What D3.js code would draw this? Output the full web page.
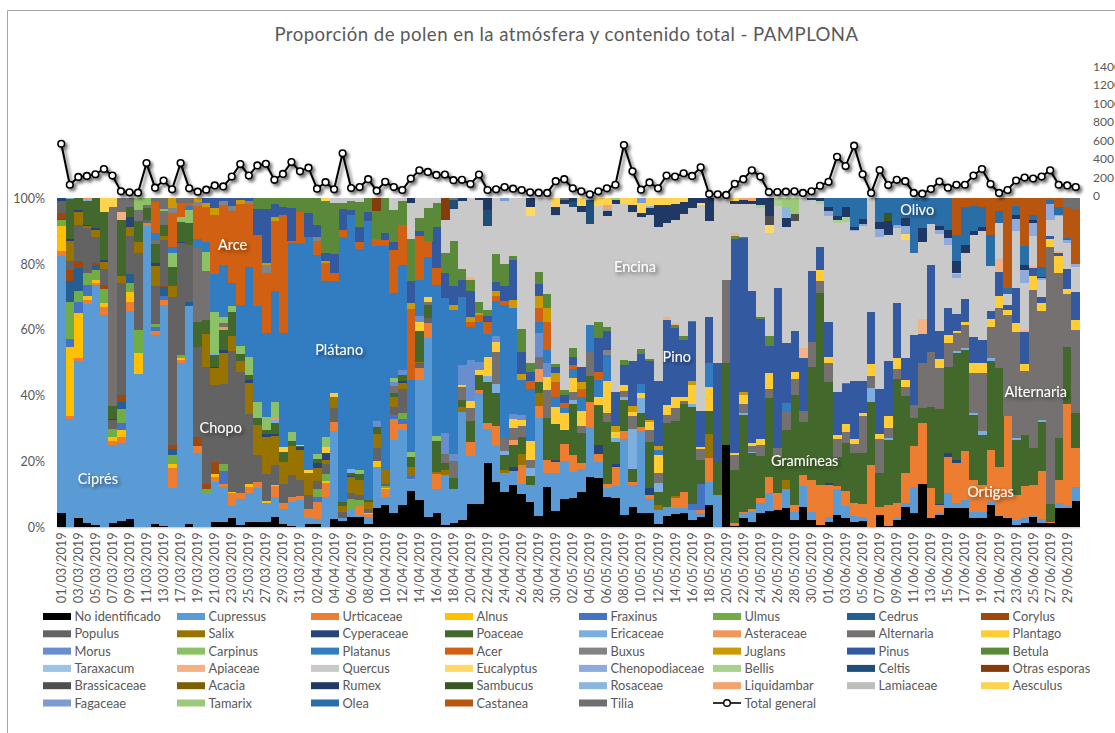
<!DOCTYPE html>
<html><head><meta charset="utf-8">
<script src="https://cdn.jsdelivr.net/npm/d3@7"></script>
<style>
html,body{margin:0;padding:0;background:#fff;overflow:hidden}
svg{display:block;font-family:Lato,"Open Sans",sans-serif}
</style></head><body>
<svg id="c" width="1115" height="733"></svg>
<script>
const chartTitle = "Proporción de polen en la atmósfera y contenido total - PAMPLONA";
const dates = ["01/03/2019","02/03/2019","03/03/2019","04/03/2019","05/03/2019","06/03/2019","07/03/2019","08/03/2019","09/03/2019","10/03/2019",
"11/03/2019","12/03/2019","13/03/2019","14/03/2019","17/03/2019","18/03/2019","19/03/2019","20/03/2019","21/03/2019","22/03/2019",
"23/03/2019","24/03/2019","25/03/2019","26/03/2019","27/03/2019","28/03/2019","29/03/2019","30/03/2019","31/03/2019","01/04/2019",
"02/04/2019","03/04/2019","04/04/2019","05/04/2019","06/04/2019","07/04/2019","08/04/2019","09/04/2019","10/04/2019","11/04/2019",
"12/04/2019","13/04/2019","14/04/2019","15/04/2019","16/04/2019","17/04/2019","18/04/2019","19/04/2019","20/04/2019","21/04/2019",
"22/04/2019","23/04/2019","24/04/2019","25/04/2019","26/04/2019","27/04/2019","28/04/2019","29/04/2019","30/04/2019","01/05/2019",
"02/05/2019","03/05/2019","04/05/2019","05/05/2019","06/05/2019","07/05/2019","08/05/2019","09/05/2019","10/05/2019","11/05/2019",
"12/05/2019","13/05/2019","14/05/2019","15/05/2019","16/05/2019","17/05/2019","18/05/2019","19/05/2019","20/05/2019","21/05/2019",
"22/05/2019","23/05/2019","24/05/2019","25/05/2019","26/05/2019","27/05/2019","28/05/2019","29/05/2019","30/05/2019","31/05/2019",
"01/06/2019","02/06/2019","03/06/2019","04/06/2019","05/06/2019","06/06/2019","07/06/2019","08/06/2019","09/06/2019","10/06/2019",
"11/06/2019","12/06/2019","13/06/2019","14/06/2019","15/06/2019","16/06/2019","17/06/2019","18/06/2019","19/06/2019","20/06/2019",
"21/06/2019","22/06/2019","23/06/2019","24/06/2019","25/06/2019","26/06/2019","27/06/2019","28/06/2019","29/06/2019","30/06/2019"];

const totalGeneral = [563,118,203,214,232,289,218,46,36,32,
353,86,164,68,353,79,43,64,111,100,
207,342,218,328,346,171,235,364,264,303,
75,146,68,460,82,93,178,54,150,93,
61,185,275,257,225,228,168,171,125,228,
61,68,93,75,61,36,32,29,157,178,
79,46,14,46,79,118,549,264,64,143,
79,218,207,243,214,307,18,14,7,128,
178,275,207,39,39,43,46,29,46,107,
150,421,321,542,232,29,278,114,171,157,
29,21,71,153,86,118,118,218,289,125,
29,61,164,196,185,207,275,118,111,93];

// Full daily series (percent of the day's total)
const noIdentificado = [4.2,0,2.7,1.2,.7,.2,1.2,1.9,2.6,0,
.2,1,.4,0,.2,1,0,0,1.7,1.7,
2.7,.7,1.7,1.7,1.7,3.2,1,.4,0,.9,
1,.2,2.5,2,3.2,3,1,5.8,6.8,4.2,
6.8,11,8.3,3,4.3,.7,1.4,2.2,7.2,7.2,
19.4,13.9,10.8,13,10.1,7.6,3.5,12.3,5.1,8.6,
8.8,10.8,15.2,14.9,9.3,9,3.7,6.3,4.2,4.2,
1,3.5,4,4.2,2.2,3.2,6.8,.2,25,.4,
2.9,1.7,4.2,5.1,5.3,5.8,2.2,6.3,2.2,.7,
1.7,3.7,2.7,1.7,2,0,3.7,.4,2.2,6.3,
4.2,13.3,2.7,3.7,5.8,5.8,6,2.7,2.9,6.8,
3.5,2.9,.7,1.2,3.2,1.4,1.2,5.8,6,8.1];
const cupressus = [78.3,32.8,47.9,66.8,73,64.2,23.8,23.6,63,46.5,
91.5,57.5,67,11.8,49.8,66.1,22.5,10,12.1,10.6,
4,7.8,8.6,10.1,5.6,5.9,4.7,7.4,8.3,1.8,
1.4,9.1,26.8,.7,2.5,.5,2.2,12.4,2.5,22.3,
22.7,3.3,36.6,54.5,7.3,15.2,10.1,32.9,14.4,33.5,
10.6,11.1,5.6,4.1,3.2,5.4,29.6,4.1,11.5,11.6,
8.1,6.8,15.4,5,2.7,3.6,23,6.5,24.6,4.3,
4.2,2.8,2,1.7,3,1,7,9.6,0,0,
1.4,3,3.1,5.2,.2,5.7,2.5,6.3,2.5,0,
1.5,7.8,3.8,1.8,1.2,0,0,0,.5,1,
8.1,0,0,.5,4.7,1.5,2.3,2,1.8,.8,
0,0,1.5,1.8,.2,1,0,1.5,.6,4.2];
const urticaceae = [1.5,1,.7,1,.5,2.4,1.2,2,2.9,0,
.7,1.2,1.7,6.1,.8,0,2.2,0,1.6,1,
3.6,2,2,2,0,3.3,1.6,1.5,1.3,3,
5.4,4.2,2.7,0,0,3,.8,0,2.3,6.4,
1.8,.5,3.4,4.5,4.6,0,0,0,4.4,1,
1.8,5.8,0,0,5.6,0,3.7,4.2,3.3,5.1,
5,2,7.6,2.5,1.3,5.8,2.6,1,1.2,1.3,
0,0,2.8,4.9,0,1,7.4,0,0,.8,
.4,1,1.5,5.1,5,0,2.1,3.3,9.7,12.3,
9.8,1.2,4.6,4,3.8,19,2.5,6.4,4.8,9.3,
12.4,18.3,9.3,2.6,10.9,12.3,15,9.8,8.1,15.9,
14.9,30.9,7.6,9.6,9.4,14.6,.5,7.1,31,11.7];
const poaceae = [0,12.1,3.5,7.1,9.1,14.5,4.2,16.9,2.9,6.6,
3.6,5.9,3.5,5.8,6.3,6.6,7.6,4.2,3.5,6,
7.3,2.2,1.4,2.3,1.5,3.3,3,1.5,.4,0,
1.3,0,0,1.4,.8,2,.5,2.1,0,1.2,
1.6,3,9.4,4.1,9.3,2,3.4,2,6.3,4.6,
12.4,9.9,4.5,6.6,5.1,2.6,3.5,12.5,10.9,4.4,
15.7,9.1,7.8,12.2,18.7,6.8,9.4,3.8,4.3,14.2,
4.1,25.3,22.7,26.6,29.4,7.3,7.1,10.1,25,16.2,
29.4,16.8,12.8,23.8,10.9,15.1,33.4,16.1,34.4,58.2,
30.7,8.7,14.4,15,15.7,19.2,10.2,19.7,37.5,23.3,
8.4,4.5,24.6,28.7,26.3,32.6,30.7,19.5,15.2,27.1,
29.9,0,16.7,15.4,11.2,15,5.3,12.6,17.3,10.6];

// Sparse series as flat lists: day index, value, day index, value ...
const alnus = [0,7.6,1,21.1,2,13.7,3,1.3,4,1,5,1.3,6,1.3,7,2,8,2.9,9,6.5,13,1.3,14,.5,18,.8,20,.5,22,.8,24,.8,25,.5,31,.6,36,.4,37,1.9,38,.3];
const fraxinus = [1,2.3,2,3.6,3,3.3,7,2.3,11,1.1,12,1.3,19,3.9,30,1.3,39,1,40,1.6,41,1,74,2,75,7.9];
const ulmus = [0,1.8,1,11.4,2,3.3,3,3.8,4,3,5,4.3,6,2.4,7,4.1,8,2.8,9,7,11,1,13,2.8,14,1,17,1.6,19,2,30,2.5,31,2.1,34,2.8,35,1.9,38,.6,40,1.9];
const cedrus = [0,.3,1,6.1,2,6.9,4,1.6,7,2.3,8,2.8,12,2.6,13,1.7,15,1.3];
const corylus = [0,1.8,1,3.5,2,2.2,4,.5,5,1.3,7,2,12,.4,13,1.3,16,2.6,17,1.5,18,3.7];
const populus = [0,3.5,1,2.8,2,11,3,13.5,4,7.9,5,4.9,6,2.7,7,34,8,11.6,9,23.3,10,1,11,11.4,12,13.8,13,45.1,14,34.1,15,17.4,16,27.6,17,35.5,18,23.3,19,24.3,20,42.8,21,36.8,22,21.3,23,8.2,24,8.1,25,6.1,26,6,27,6.6,28,4.9,29,4.1,30,2.5,31,2.9,32,4.3,33,2,34,2,35,1.3,36,1.3,37,4.1,38,.8,39,2.4,40,7.1,42,1.5,43,1.5];
const salix = [1,5.9,2,3.7,3,.8,4,2.2,5,2,7,2.3,8,2.6,9,3.3,11,6.1,12,1.2,13,3.1,17,10.2,18,5.1,19,9.5,20,4.4,21,3.3,22,9.5,23,9,24,11.3,25,8.7,26,6.6,27,8.9,28,9,29,6.6,30,3.8,31,1.5,32,3.2,33,1.7,34,4.9,35,4.6,36,2.1,37,4.2,38,4.1,39,3.3,40,2,41,2.6,42,.5,44,.5,45,1.5,47,1.5,52,1,54,3.3,56,3.9,70,1.5,72,.8,76,7.1,85,2.9];
const cyperaceae = [0,1,1,.8,2,.8,3,.2,4,.5,5,.7,6,.2,8,3.1,11,1,14,.2,18,.5,19,1,22,1,24,.7,25,.6,28,.8,30,1.7,31,1.9,34,.2,40,.7,53,1.2,58,.5,63,2.5,65,.8,69,2,90,.5,103,.3,104,1.1,105,.8];
const ericaceae = [1,.2,3,.5,18,.7,25,1,34,1.3,50,1.8,51,2.8,52,1.2,55,2.5,60,1.2,65,1,66,.8,67,12.4,68,4.3,70,2.7,74,1,80,.5,81,.3,95,4,97,.5,105,.6,106,.6,107,.7,108,1.3,109,.7,112,.5,115,.5];
const asteraceae = [3,.5,19,1,25,.5,53,1.5,56,3.8];
const alternaria = [6,60.3,9,3.3,10,1,11,1.2,12,4.1,16,22.3,17,15,19,1.2,39,2.1,43,1,45,2.8,46,5.3,47,4.1,48,4.1,51,9.9,52,4.4,53,3.9,54,3.4,55,2.5,56,3.6,57,8.6,60,2.4,61,2,62,7.4,64,2.8,66,2,67,3.8,69,3.6,70,2.9,71,2.4,72,3.8,73,1.1,75,3.3,78,25.2,79,4.6,80,3,81,1.9,82,3.4,83,2.7,84,2.6,85,5.6,86,5,87,3.3,88,7.4,89,3.5,90,5.8,91,5.3,92,3.5,93,2.8,94,11.1,95,3.8,96,10.3,97,3.3,98,3,99,2.6,100,4.2,101,13.7,102,16.8,103,12.5,104,7.2,105,5.4,106,6.9,107,12.3,108,17.7,109,9.7,110,18.3,111,30.6,112,32.3,113,19.6,114,48.2,115,33.1,116,78.3,117,50.4,118,15.9,119,25.4];
const plantago = [26,1.4,28,.2,29,1,31,2,32,1.2,42,2.8,43,1.5,47,.5,48,2,49,1.5,50,5.8,51,3,53,2.7,54,1.8,55,5.6,57,3.9,58,5.3,59,5.1,60,4.1,61,4.6,63,2.6,64,9.7,65,1.9,66,1.7,67,1.3,68,1.5,69,2.4,70,5.5,71,3.1,72,3.4,73,1,74,5.6,75,.6,76,7.3,79,.7,80,2.6,81,1,82,1.7,83,5.1,86,2.1,89,3.5,90,1.8,91,1.3,92,2.5,93,1.4,94,.8,95,3.6,96,1.5,97,3.5,98,3.3,99,2.2,103,2.8,104,2.5,105,.7,106,1,107,3,108,3,109,2.4,110,3.8,111,1.7,112,2.7,113,2,114,4.2,115,2.5,116,2.3,117,5,118,1.6,119,3];
const morus = [37,1.8,39,1,40,1.7,42,1.7,45,6.5,46,2.2,47,6.1,48,12.4,49,2.5,51,1.6,53,1.4,54,1.5,56,7.4,57,4.2];
const carpinus = [9,3.5,10,2,12,.7,13,4.5,14,1.3,15,3.9,17,5.8,18,12.3,19,1.8,20,2,21,2.2,22,5.5,23,4.9,24,3.7,25,4.9,27,2.7,30,1.3,31,2.8,35,1.1,39,1.3,41,1.6,44,1.5];
const platanus = [11,2,13,1.6,15,1.2,16,2.8,17,2.8,18,11.7,19,15.6,20,6.9,21,12.4,22,27.2,23,28.9,24,25.6,25,33.7,26,34.7,27,57.4,28,61.5,29,70.8,30,60.6,31,47.4,32,34,33,80.4,34,77.3,35,67.1,36,84.7,37,53.3,38,68.1,39,25.7,40,31.8,41,21.7,42,11,43,11.9,44,45.5,45,40.9,46,43.6,47,20.8,48,10.2,49,12.2,50,7,51,10.9,52,40.1,53,32.2,54,10.7,55,15.7,56,3.5,57,4.2,58,3.1,59,1.5,60,2.7,61,4.4,62,8.1,63,5,64,7.9,68,2.8,70,1.5,76,7.1,85,2.8];
const acer = [11,9.4,13,10.4,14,4.3,15,1,16,9.9,17,10.6,18,18,19,18.4,20,22,21,30.9,22,19.3,23,21.8,24,18.2,25,21.3,26,36,27,.5,28,9.3,30,4.1,31,5.6,32,2.7,33,2,35,2.2,37,2,38,1.9,39,13.1,40,12.1,41,21.7,42,13.2,43,4.9,44,5.1,48,1.5,49,2,50,3.5,51,1.5,52,1.3,55,2.6,56,4.1,57,8.5,58,4.5,59,1.5,60,1.3,61,2.3,63,2.6];
const buxus = [13,1.5,16,1.3,19,1,20,1.3,22,1,24,2.6,30,1.3,64,1.4];
const juglans = [13,3,16,1.2,17,1.3,18,2,21,1.2,24,.5,25,1.3,31,.7,41,1.7,46,1.5,48,1.5,49,.5,51,1.3,53,2.5,54,1.8,56,3.8,57,4.1,58,2.6,61,2.2,65,2,67,1.8,69,.5,70,1.4,71,.2,74,1.3,80,1];
const pinus = [17,1.5,18,3,19,1,20,2.5,21,.5,22,.7,23,7.8,24,16.5,25,4,26,2.3,27,10.1,29,7.3,30,3.8,31,2.3,32,5.7,33,6.6,34,1.5,35,4.5,36,2.7,38,2,39,2.3,41,6.6,42,1.5,44,12.4,45,7.8,46,5.7,47,5.1,48,7.7,50,2,51,2.8,52,4.3,53,12.2,54,6.9,55,2.8,56,3.6,58,2,59,2.4,60,2.5,61,4.4,63,10.2,64,5.7,65,10.3,66,6.1,67,13.7,68,8.9,69,18.1,70,19.7,71,25.7,72,21,73,17.5,74,17.8,75,11.1,76,14.2,77,30.1,79,65,80,46.7,81,46.2,82,36.7,83,8.1,84,48.7,85,18.1,86,12.2,87,16,88,21.8,89,6.9,90,10.7,91,13.2,92,11.9,93,17.7,94,9.8,95,15.7,96,13.8,97,16.8,98,17,99,6.8,100,21,101,9,102,26.4,103,8.4,104,8.1,105,5.1,106,6.8,107,7.8,108,7,109,2.2,110,7.3,111,1.5,112,10.7,113,9.7,114,2.4,115,2,116,1,117,.8,118,6,119,8.5];
const betula = [23,3.3,24,3.2,25,1.7,26,2.7,27,3,28,4.3,29,4.5,30,8,31,15.7,32,15.4,33,1.7,34,2.5,35,7.5,36,4.3,37,8.4,38,10.6,39,9.9,40,7.2,41,12.9,42,4.1,43,10.1,44,7.3,45,5.9,46,13.7,47,3.3,48,3.5,49,3.4,50,1.6,51,8.6,52,6.8,53,1.2,54,6.8,55,2.5,56,3.7,57,4.4,58,.8,59,1.5,60,2.7,63,4.8,64,1.3,66,1.5,68,1.5,69,.4,72,1,73,1,74,.5,79,.7,80,.3,82,.5,83,2.9,92,.3];
const taraxacum = [];
const apiaceae = [7,2.4,48,1,71,.8,72,.7,79,.9,87,3.3,101,4.6,110,3.8,113,.7,114,.7,117,.9];
const quercus = [32,1.5,33,1.5,34,1,35,1.3,39,3.5,40,1,41,10.9,42,6,43,3,44,1.5,45,10.1,46,9.8,47,20.5,48,23.8,49,31.1,50,25.6,51,16.9,52,19,53,17.5,54,39.8,55,44.9,56,22.3,57,29,58,44.9,59,56.6,60,42.8,61,47.1,62,30.7,63,35.4,64,33.9,65,57.1,66,47.5,67,45.1,68,39.4,69,44,70,46.9,71,28.8,72,31.3,73,37.3,74,34.2,75,62.6,76,29,77,50,78,24.8,79,9,80,10.1,81,26.4,82,33.1,83,31.4,84,24.8,85,35.2,86,33.5,87,45.4,88,21.5,89,13.2,90,32.2,91,51.4,92,49.2,93,45.5,94,47.3,95,34.7,96,46.2,97,38.3,98,22.6,99,35.7,100,25,101,23.2,102,12.4,103,29.7,104,19.2,105,11.1,106,14.2,107,31.1,108,32.9,109,13.9,110,11.1,111,3.4,112,17.4,113,14.2,114,9.1,115,5.1,116,4.8,117,10.6,118,8,119,7.5];
const eucalyptus = [55,2.6,75,.5,83,2.6,99,2];
const chenopodiaceae = [90,1.3,93,.5,94,.5,96,2.5,98,1,99,2.4,103,1.2,104,2,105,1,112,3.6,113,4,114,3.8,115,.5,116,4.9,117,.3,118,.8,119,1];
const bellis = [58,.3,82,1,84,2.5,89,.7,91,.7,92,1.5,105,.5];
const celtis = [46,2.7,50,5,60,1.5,62,7.3];
const otrasEsporas = [37,4,45,6.6];
const brassicaceae = [83,2.7,86,2.2];
const acacia = [];
const rumex = [41,1.5,47,1,49,.5,50,3.5,55,2.7,58,2.4,59,1.2,60,1.2,61,1.8,64,1.3,65,1.1,67,2.1,68,1.2,69,2,70,6.6,71,5.4,72,4.8,73,3.4,74,3,75,1.5,76,7,79,1,80,1.2,81,.7,82,2,83,5.3,85,2.8,88,.5,89,1,90,1.3,91,1.3,92,3,93,1,94,1.5,96,2.1,97,4.1,99,2.4,101,4.3,103,1.2,104,2.6,105,3.6,106,2.3,107,1,108,1.5,112,1.3,113,1.6,114,1,115,.5];
const sambucus = [97,2.5];
const rosaceae = [62,.5,64,.5,69,.5,85,3.2];
const liquidambar = [64,1.3,80,.5,81,1];
const lamiaceae = [];
const aesculus = [5,4.2,6,2.7,31,1,58,2.8,61,2.5,63,2.3,64,2.2,66,1.7,67,2.2,68,3,69,2.5,70,2,71,2,72,1.7,73,1.3,79,.7];
const fagaceae = [52,1,68,1.5];
const tamarix = [65,.6,85,2.8,86,4.8];
const olea = [90,2.7,91,5.4,92,2.6,93,8.6,94,6.3,96,7.2,97,4.5,98,8.1,99,6,100,16.7,101,9.1,102,7.8,103,8.4,104,9.6,105,7.9,106,11.5,107,7.8,108,5.9,109,9.4,110,3.6,111,1.7,112,2.5,113,5.8,114,1.6,115,2.8,116,1.2,117,2.3,118,.7];
const castanea = [105,11.1,106,2.7,107,2.3,108,2.7,109,11.1,110,3.8,111,27.3,112,2.5,113,14.4,114,5,115,21,116,.5,117,2.7,118,9.4,119,16.7];
const tilia = [7,4.2,8,2.8,11,1.2,12,3.3,14,1.5,15,1.5,46,.6,59,.5,118,2.7,119,3.3];

const seriesNames = ["No identificado","Cupressus","Urticaceae","Alnus","Fraxinus","Ulmus","Cedrus","Corylus",
"Populus","Salix","Cyperaceae","Poaceae","Ericaceae","Asteraceae","Alternaria","Plantago",
"Morus","Carpinus","Platanus","Acer","Buxus","Juglans","Pinus","Betula",
"Taraxacum","Apiaceae","Quercus","Eucalyptus","Chenopodiaceae","Bellis","Celtis","Otras esporas",
"Brassicaceae","Acacia","Rumex","Sambucus","Rosaceae","Liquidambar","Lamiaceae","Aesculus",
"Fagaceae","Tamarix","Olea","Castanea","Tilia"];
const seriesColors = ["#000000","#5B9BD5","#ED7D31","#FFC000","#4472C4","#70AD47","#255E91","#9E480E",
"#636363","#997300","#264478","#43682B","#7CAFDD","#F1975A","#767171","#FFCD33",
"#698ED0","#8CC168","#327DC2","#D26012","#848484","#CC9A00","#335AA1","#5A8A39",
"#9DC3E6","#F4B183","#C9C9C9","#FFD966","#8FAADC","#A9D18E","#1F4E79","#843C0C",
"#4F4F4F","#7F6000","#203864","#385723","#8AB6E0","#F2A36E","#BDBDBD","#FFD34D",
"#7D9BD3","#9BC97A","#2A6EA8","#B8560F","#6F6F6F"];
const annotationTexts = ["Ciprés","Chopo","Arce","Plátano","Encina","Pino","Gramíneas","Olivo","Ortigas","Alternaria"];
const annotationDay = [4.3,18.7,20.1,32.6,67.3,72.2,87.2,100.4,109,114.3];
const annotationPct = [14.8,30.1,85.8,54,79.2,51.8,20.2,96.5,10.6,41.2];

const fromPairs = list => { const a = new Array(dates.length).fill(0); for (let k = 0; k < list.length; k += 2) a[list[k]] = list[k+1]; return a; };
const seriesValues = [noIdentificado,cupressus,urticaceae,fromPairs(alnus),fromPairs(fraxinus),fromPairs(ulmus),fromPairs(cedrus),fromPairs(corylus),
fromPairs(populus),fromPairs(salix),fromPairs(cyperaceae),poaceae,fromPairs(ericaceae),fromPairs(asteraceae),fromPairs(alternaria),fromPairs(plantago),
fromPairs(morus),fromPairs(carpinus),fromPairs(platanus),fromPairs(acer),fromPairs(buxus),fromPairs(juglans),fromPairs(pinus),fromPairs(betula),
fromPairs(taraxacum),fromPairs(apiaceae),fromPairs(quercus),fromPairs(eucalyptus),fromPairs(chenopodiaceae),fromPairs(bellis),fromPairs(celtis),fromPairs(otrasEsporas),
fromPairs(brassicaceae),fromPairs(acacia),fromPairs(rumex),fromPairs(sambucus),fromPairs(rosaceae),fromPairs(liquidambar),fromPairs(lamiaceae),fromPairs(aesculus),
fromPairs(fagaceae),fromPairs(tamarix),fromPairs(olea),fromPairs(castanea),fromPairs(tilia)];

const table = dates.map((d,i) => { const r = {date:d}; seriesNames.forEach((n,s) => r[n] = seriesValues[s][i]); return r; });
const stacked = d3.stack().keys(seriesNames).offset(d3.stackOffsetExpand)(table);

const svg = d3.select("#c");
const grey = "#595959";
const defs = svg.append("defs");
defs.append("filter").attr("id","ls").attr("x","-5%").attr("y","-30%").attr("width","110%").attr("height","170%")
  .append("feDropShadow").attr("dx",2.5).attr("dy",2.5).attr("stdDeviation",1.6).attr("flood-color","#000").attr("flood-opacity",.55);
defs.append("filter").attr("id","ts").attr("x","-20%").attr("y","-40%").attr("width","140%").attr("height","190%")
  .append("feDropShadow").attr("dx",2).attr("dy",2).attr("stdDeviation",2).attr("flood-color","#000").attr("flood-opacity",.6);

// frame: only the top and left edges of the chart area show in the picture
svg.append("path").attr("d","M7.5,733V10.5H1115").attr("fill","none").attr("stroke","#A6A6A6").attr("stroke-width",1);

const x = d3.scaleBand().domain(dates).range([57,1080]).padding(0);
const y = d3.scaleLinear().domain([0,1]).range([527.3,198.2]);
const y2 = d3.scaleLinear().domain([0,1400]).range([195.6,66.7]);

svg.append("text").attr("x",566.5).attr("y",41).attr("text-anchor","middle")
  .attr("font-size",18.6).attr("fill",grey).attr("letter-spacing",0.46).text(chartTitle);

// stacked bars
svg.append("g").attr("shape-rendering","crispEdges").selectAll("g").data(stacked).join("g")
  .attr("fill",(d,i) => seriesColors[i])
  .selectAll("rect").data(d => d.filter(v => v[1]-v[0] > 0)).join("rect")
  .attr("x",d => x(d.data.date)).attr("width",x.bandwidth()+0.4)
  .attr("y",d => y(d[1])).attr("height",d => y(d[0])-y(d[1]));

// axes
const gy = svg.append("g").attr("transform","translate(57,0)")
  .call(d3.axisLeft(y).tickValues(d3.range(0,1.01,.2)).tickFormat(d3.format(".0%")).tickSize(0).tickPadding(12));
gy.select(".domain").remove();
gy.selectAll("text").attr("font-size",12.5).attr("fill",grey).attr("font-family","Lato");

const gy2 = svg.append("g").attr("transform","translate(1093,0)")
  .call(d3.axisRight(y2).tickValues(d3.range(0,1401,200)).tickSize(0).tickPadding(0).tickFormat(d3.format("d")));
gy2.select(".domain").remove();
gy2.selectAll("text").attr("font-size",12).attr("fill",grey).attr("font-family","Lato");

const gx = svg.append("g").attr("transform","translate(0,527.3)")
  .call(d3.axisBottom(x).tickValues(dates.filter((d,i) => i%2===0)).tickSize(0));
gx.select(".domain").attr("stroke","#BFBFBF").attr("stroke-width",1);
gx.selectAll("text").attr("font-size",12.8).attr("fill",grey).attr("font-family","Lato")
  .attr("text-anchor","end").attr("dx",0).attr("dy",0)
  .attr("transform","translate(4.5,-2) rotate(-90)").attr("x",-7).attr("y",0);

// total line
const lineG = svg.append("g").attr("filter","url(#ls)");
const cx = d => x(d) + x.bandwidth()/2;
lineG.append("path").datum(totalGeneral)
  .attr("fill","none").attr("stroke","#000").attr("stroke-width",2)
  .attr("d",d3.line().x((d,i) => cx(dates[i])).y(d => y2(d)));
lineG.selectAll("circle").data(totalGeneral).join("circle")
  .attr("cx",(d,i) => cx(dates[i])).attr("cy",d => y2(d)).attr("r",3.3)
  .attr("fill","#fff").attr("stroke","#000").attr("stroke-width",1.6);

// annotations
svg.append("g").selectAll("text").data(annotationTexts).join("text")
  .attr("x",(d,i) => x(dates[0]) + annotationDay[i]*x.step() + x.bandwidth()/2)
  .attr("y",(d,i) => y(annotationPct[i]/100)).attr("text-anchor","middle").attr("dy","0.35em")
  .attr("font-size",14.5).attr("fill","#fff").attr("filter","url(#ts)").text(d => d);

// legend
const legendX = d3.scaleLinear().domain([0,7]).range([43,981]);
const legendY = d3.scaleLinear().domain([0,5]).range([616.5,703]);
const lg = svg.append("g");
const items = seriesNames.concat(["Total general"]);
items.forEach((n,i) => {
  const c = i%8, r = Math.floor(i/8), gx0 = legendX(c), gy0 = legendY(r);
  if (i < seriesNames.length) {
    lg.append("rect").attr("x",gx0).attr("y",gy0-3.5).attr("width",28).attr("height",7).attr("fill",seriesColors[i]);
  } else {
    lg.append("line").attr("x1",gx0).attr("x2",gx0+28).attr("y1",gy0).attr("y2",gy0).attr("stroke","#000").attr("stroke-width",1.6);
    lg.append("circle").attr("cx",gx0+14).attr("cy",gy0).attr("r",3.3).attr("fill","#fff").attr("stroke","#000").attr("stroke-width",1.4);
  }
  lg.append("text").attr("x",gx0+31.5).attr("y",gy0).attr("dy","0.36em").attr("font-size",12.8).attr("fill",grey).text(n);
});
</script>
</body></html>
